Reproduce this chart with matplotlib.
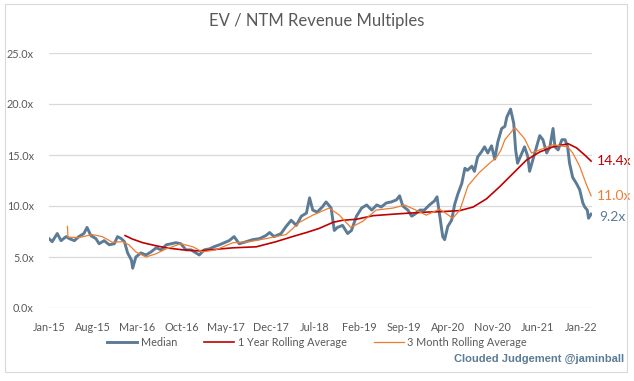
import numpy as np
import pandas as pd
import matplotlib
matplotlib.use("Agg")
import matplotlib.pyplot as plt
import matplotlib.dates as mdates
from matplotlib.patches import Rectangle

plt.rcParams["font.family"] = ["Lato", "DejaVu Sans"]

# values; x is months since Jan 2015
median_month = [0, 0.5, 1.3, 1.9, 2.7, 3.2, 4.0, 4.7, 5.5, 6.0, 6.6, 7.4, 7.9, 8.7,
                9.5, 10.3, 10.8, 11.4, 11.9, 12.4, 13.0, 13.2, 13.7, 14.5, 15.3,
                16.1, 16.9, 17.7, 18.5, 19.3, 20.0, 20.8, 21.6, 22.4, 23.2, 23.7,
                24.5, 25.3, 26.0, 26.9, 28.4, 29.2, 30.0, 31.1, 32.1, 33.2, 34.2,
                34.8, 35.5, 36.6, 37.4, 38.2, 39.0, 39.8, 40.6, 41.1, 41.6, 42.3,
                43.1, 43.7, 44.5, 45.0, 45.5, 46.3, 47.1, 47.7, 48.5, 49.3, 50.1,
                50.9, 51.7, 52.4, 53.2, 54.0, 54.8, 55.3, 55.8, 56.6, 57.2, 57.7,
                58.5, 59.2, 60.0, 60.8, 61.2, 61.6, 62.1, 62.4, 62.9, 63.5, 64.0,
                64.5, 65.1, 65.6, 66.0, 66.7, 67.1, 67.6, 68.2, 68.7, 69.2, 69.8,
                70.3, 70.8, 71.4, 71.9, 72.2, 72.8, 73.3, 73.6, 73.9, 74.6, 75.0,
                75.5, 75.8, 76.3, 76.9, 77.4, 77.9, 78.5, 79.0, 79.5, 79.8, 80.3,
                80.9, 81.4, 81.8, 82.1, 82.6, 83.2, 83.7, 84.2, 84.5, 84.9, 85.1,
                85.5]
median_val = [6.8, 6.5, 7.3, 6.6, 7.0, 6.8, 6.6, 7.0, 7.3, 7.9, 7.1, 6.8, 6.3, 6.6,
              6.2, 6.3, 7.0, 6.8, 6.5, 5.4, 4.7, 3.9, 5.0, 5.4, 5.2,
              5.5, 5.9, 5.7, 6.2, 6.3, 6.4, 6.3, 5.7, 5.7, 5.4, 5.2,
              5.7, 5.8, 6.0, 6.2, 6.6, 7.0, 6.3, 6.5, 6.7, 6.8, 7.1,
              7.4, 7.0, 7.3, 8.0, 8.6, 8.1, 9.0, 9.3, 10.8, 9.6, 9.4,
              9.9, 10.4, 9.8, 7.6, 7.9, 8.1, 7.3, 7.6, 9.0, 9.8, 10.1,
              9.6, 10.1, 9.9, 10.3, 10.4, 10.6, 11.0, 10.0, 9.6, 9.0, 9.2,
              9.6, 9.6, 10.1, 10.5, 10.9, 9.2, 7.0, 6.7, 8.0, 8.6, 10.2,
              11.2, 12.2, 13.7, 13.5, 13.9, 13.4, 14.8, 15.3, 15.8, 15.2, 15.9,
              14.6, 16.3, 17.6, 17.8, 18.7, 19.5, 18.1, 15.5, 14.2, 15.2, 15.8,
              14.9, 13.4, 14.5, 15.8, 16.9, 16.5, 15.2, 15.8, 17.6, 15.8, 15.5,
              16.5, 16.5, 15.8, 14.2, 12.8, 12.2, 11.6, 10.3, 9.9, 9.6, 8.8,
              9.2]

year_month = [12.0, 13.2, 14.8, 16.9, 18.5, 21.1, 23.7, 26.3, 29.0, 32.7, 35.8, 38.4,
              40.6, 42.6, 44.8, 46.3, 48.5, 51.1, 54.3, 58.0, 59.5, 62.0, 64.8, 66.9,
              69.0, 71.1, 73.2, 75.3, 77.4, 79.5, 81.9, 83.2, 84.5, 85.5]
year_val = [7.1, 6.75, 6.4, 6.1, 5.9, 5.7, 5.6, 5.75, 5.9, 6.0, 6.5, 7.0,
            7.4, 7.8, 8.4, 8.6, 8.7, 9.05, 9.2, 9.35, 9.4, 9.45, 9.55, 9.9,
            10.7, 11.9, 13.2, 14.5, 15.3, 15.8, 16.1, 15.7, 15.0, 14.4]

q_month = [2.9, 3.0, 4.7, 6.8, 8.4, 10.0, 11.6, 12.6, 13.7, 15.3, 16.8, 18.5, 20.8,
           22.7, 24.2, 26.3, 29.0, 31.6, 34.2, 37.4, 39.5, 41.6, 44.2, 45.8, 47.6,
           49.5, 51.6, 54.3, 56.1, 58.2, 59.5, 61.6, 63.7, 64.8, 66.1, 67.9, 69.5,
           70.6, 71.3, 71.9, 73.5, 75.0, 76.1, 77.4, 79.5, 81.8, 82.6, 83.7, 84.7,
           85.5]
q_val = [8.0, 6.95, 6.9, 7.2, 7.0, 6.45, 6.5, 6.2, 5.5, 5.0, 5.3, 5.8, 6.3,
         6.0, 5.5, 5.7, 6.4, 6.5, 6.8, 7.2, 8.4, 9.1, 9.8, 9.1, 7.9,
         8.5, 9.6, 9.8, 10.1, 9.5, 9.1, 9.7, 8.8, 9.6, 12.0, 13.3, 14.2,
         14.8, 15.5, 16.5, 17.7, 16.6, 15.2, 15.5, 16.0, 15.8, 15.2, 13.9, 12.2,
         11.0]

start = pd.Timestamp("2015-01-01")


def to_dates(months):
    return start + pd.to_timedelta(np.array(months) * 30.44, unit="D")


c_med = "#5B7B96"
c_year = "#C00000"
c_q = "#ED7D31"
c_txt = "#595959"

fig = plt.figure(figsize=(6.34, 3.81), dpi=100)
ax = fig.add_axes([49 / 634, 1 - 308 / 381, (592 - 49) / 634, (308 - 53) / 381])

ax.plot(to_dates(median_month), median_val, color=c_med, lw=2.1, label="Median")
ax.plot(to_dates(year_month), year_val, color=c_year, lw=1.2, label="1 Year Rolling Average")
ax.plot(to_dates(q_month), q_val, color=c_q, lw=0.9, label="3 Month Rolling Average")

ax.set_ylim(0, 25)
ax.set_yticks(np.arange(0, 26, 5))
ax.yaxis.set_major_formatter(plt.FuncFormatter(lambda v, p: f"{v:.1f}x"))
ax.set_xlim(start, pd.Timestamp("2022-02-20"))
ax.set_xticks(pd.date_range("2015-01-01", "2022-01-01", freq="7MS"))
ax.xaxis.set_major_formatter(mdates.DateFormatter("%b-%y"))
ax.grid(axis="y", color="#D9D9D9", lw=0.9)
ax.set_axisbelow(True)
for s in ax.spines.values():
    s.set_visible(False)
ax.tick_params(length=0, labelsize=7.8, labelcolor=c_txt)
ax.tick_params(axis="y", pad=11)
ax.tick_params(axis="x", pad=10)

end = to_dates([85.5])[0]
ax.annotate(f"{year_val[-1]:.1f}x", (end, year_val[-1]), xytext=(4, 0), textcoords="offset points",
            color=c_year, fontsize=10, va="center", annotation_clip=False)
ax.annotate(f"{q_val[-1]:.1f}x", (end, q_val[-1]), xytext=(4, 0), textcoords="offset points",
            color=c_q, fontsize=10, va="center", annotation_clip=False)
ax.annotate(f"{median_val[-1]:.1f}x", (end, median_val[-1]), xytext=(6, -2), textcoords="offset points",
            color=c_med, fontsize=10, va="center", annotation_clip=False)

fig.text(317 / 634, 1 - 21 / 381, "EV / NTM Revenue Multiples", ha="center", va="center",
         fontsize=12, color=c_txt)
fig.legend(loc="center", bbox_to_anchor=(0.5, 1 - 342 / 381), ncol=3, frameon=False,
           fontsize=7.8, labelcolor=c_txt, handlelength=2.8, handletextpad=0.3, columnspacing=2.5)
fig.text(624 / 634, 1 - 359 / 381, "Clouded Judgement @jaminball", ha="right", va="center",
         fontsize=8, fontweight="bold", color=c_med, family="Liberation Sans")

fig.patches.append(Rectangle((5 / 634, 1 - 372 / 381), 622 / 634, 368 / 381, transform=fig.transFigure,
                             fill=False, edgecolor="#D9D9D9", lw=0.8))

fig.savefig("out.png", dpi=100)
